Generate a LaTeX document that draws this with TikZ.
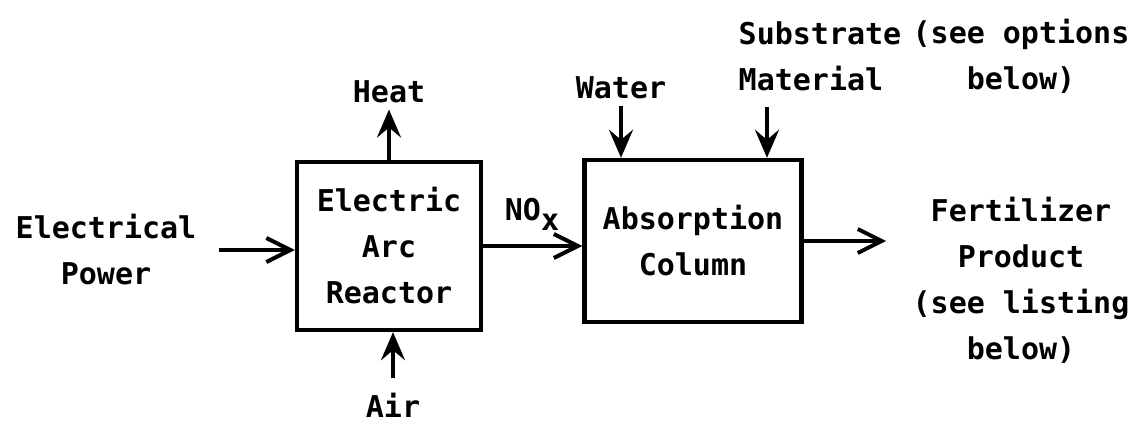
\documentclass[tikz,border=0pt]{standalone}
\usepackage{fontspec}
\setmonofont{DejaVu Sans Mono}
\usepackage{tikz}
\usetikzlibrary{positioning,arrows.meta}
\newcommand{\plotfont}{\ttfamily\bfseries\fontsize{15}{23}\selectfont}
\tikzset{
  unit/.style={rectangle, draw=black, line width=2.2pt, align=center,
    font=\plotfont, inner sep=0pt},
  lbl/.style={align=center, font=\plotfont, inner sep=3pt},
  hflow/.style={-{Straight Barb[length=12pt,width=12pt]}, draw=black, line width=2pt},
  vflow/.style={-{Stealth[length=14pt,width=12pt,inset=5pt]}, draw=black, line width=2pt},
}

\begin{document}
\begin{tikzpicture}[x=0.5pt, y=-0.5pt]
\useasboundingbox (0,0) rectangle (1142,426);
% ---- units ----
\node[unit, minimum width=92pt, minimum height=84pt] (reactor) at (389,246) {Electric\\Arc\\Reactor};
\node[unit, minimum width=108.5pt, minimum height=81pt] (column) at (693,241) {Absorption\\Column};
% ---- streams ----
\node[lbl] (power) at (106,250) {Electrical\\Power};
\node[lbl] (heat) at (389,92) {Heat};
\node[lbl, inner sep=1pt] (air) at (393,405) {Air};
\node[lbl] (nox) at (532,214) {NO\raisebox{-5pt}{x}};
\node[lbl] (water) at (621,88) {Water};
\node[lbl, align=left] (material) at (820,56) {Substrate\\Material};
\node[lbl] (options) at (1021,56) {(see options\\below)};
\node[lbl] (product) at (1021,280) {Fertilizer\\Product\\(see listing\\below)};
\coordinate (matin) at (767,107);
% ---- arrows ----
\draw[hflow, shorten <=8pt] (power.east) -- (power.east -| reactor.west);
\draw[vflow] (reactor) -- (heat);
\draw[vflow, shorten <=6pt] (air.north) -- (air.north |- reactor.south);
\draw[hflow] (reactor.east) -- (reactor.east -| column.west);
\draw[vflow] (water.south) -- (water.south |- column.north);
\draw[vflow] (matin) -- (matin |- column.north);
\draw[hflow, shorten >=10pt] (column.east) -- (column.east -| product.west);
\end{tikzpicture}
\end{document}
